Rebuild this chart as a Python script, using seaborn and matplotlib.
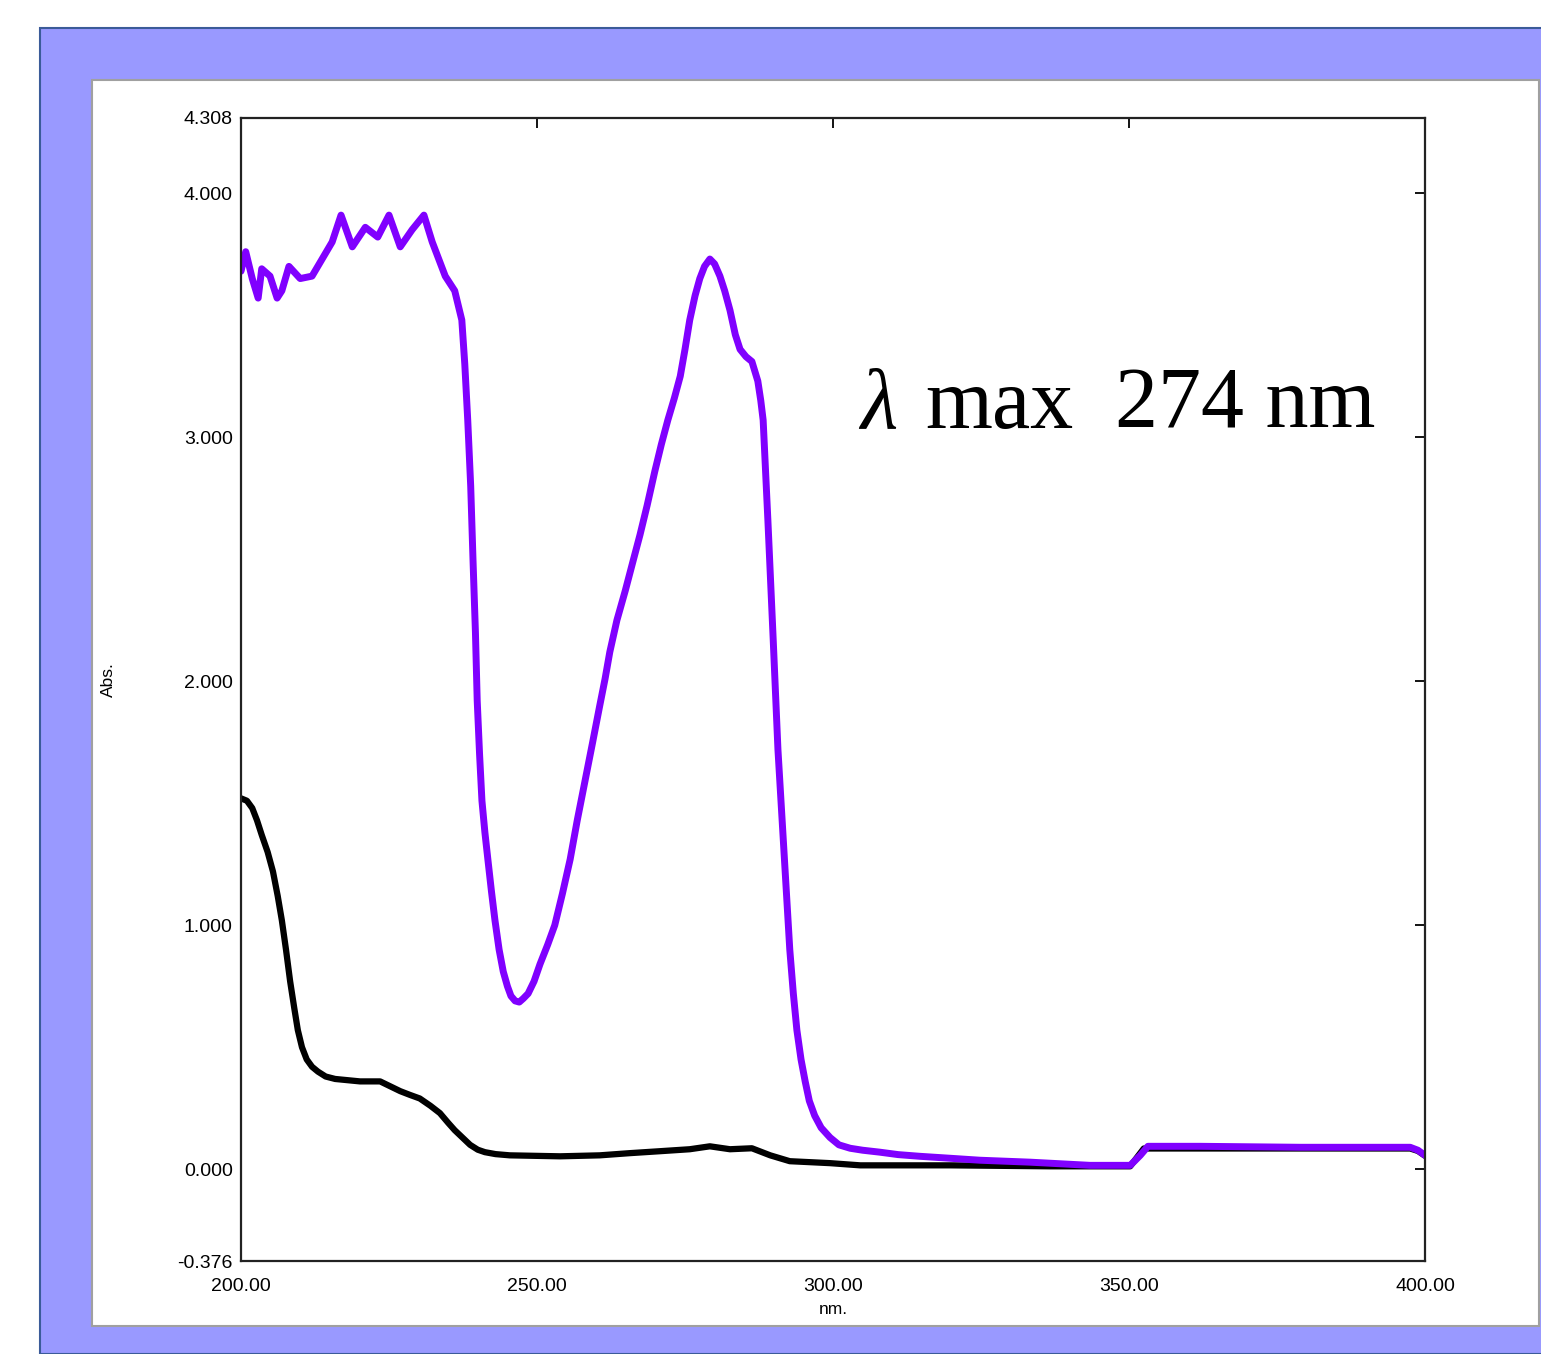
import pandas as pd
import matplotlib
matplotlib.use('Agg')
import matplotlib.pyplot as plt
import seaborn as sns
from matplotlib.patches import Rectangle

# sample spectrum (purple)
sample_nm = [200.0, 200.8, 201.9, 202.9, 203.5, 204.9, 206.1, 206.9, 208.1, 210.0, 212.0, 213.7,
             215.4, 216.9, 218.8, 221.0, 223.1, 225.0, 226.9, 228.9, 230.9, 232.3, 234.5, 236.1,
             237.3, 237.8, 238.3, 238.8, 239.2, 239.6, 239.9, 240.3, 240.7, 241.2, 241.7, 242.3,
             242.9, 243.6, 244.3, 245.0, 245.6, 246.3, 247.0, 247.7, 248.5, 249.5, 250.5, 251.8,
             253.0, 254.3, 255.6, 256.8, 258.1, 259.4, 260.6, 261.5, 262.3, 263.5, 264.9, 266.2,
             267.4, 268.6, 269.9, 271.0, 272.1, 273.2, 274.2, 275.0, 275.8, 276.7, 277.5, 278.3,
             279.2, 280.0, 280.9, 281.7, 282.6, 283.5, 284.3, 285.3, 286.3, 287.3, 287.8, 288.2,
             289.0, 289.9, 290.7, 291.7, 292.7, 293.3, 293.9, 294.6, 295.3, 296.0, 296.9, 298.0,
             299.5, 301.0, 302.9, 305.0, 307.9, 311.0, 314.7, 319.8, 324.8, 333.3, 343.4, 350.2,
             351.0, 351.9, 353.2, 362.0, 378.9, 397.5, 398.8, 400.0]
sample_abs = [3.68, 3.76, 3.65, 3.57, 3.69, 3.66, 3.57, 3.60, 3.70, 3.65, 3.66, 3.73,
              3.80, 3.91, 3.78, 3.86, 3.82, 3.91, 3.78, 3.85, 3.91, 3.80, 3.66, 3.60,
              3.48, 3.30, 3.07, 2.80, 2.49, 2.20, 1.92, 1.70, 1.51, 1.38, 1.27, 1.14,
              1.02, 0.90, 0.81, 0.75, 0.71, 0.69, 0.685, 0.70, 0.72, 0.77, 0.84, 0.92,
              1.00, 1.13, 1.27, 1.43, 1.59, 1.75, 1.90, 2.01, 2.12, 2.25, 2.37, 2.49,
              2.60, 2.72, 2.86, 2.97, 3.07, 3.16, 3.25, 3.36, 3.48, 3.58, 3.65, 3.70,
              3.73, 3.71, 3.66, 3.60, 3.52, 3.42, 3.36, 3.33, 3.31, 3.23, 3.15, 3.07,
              2.66, 2.17, 1.72, 1.31, 0.90, 0.72, 0.57, 0.45, 0.36, 0.28, 0.22, 0.17,
              0.13, 0.10, 0.086, 0.078, 0.07, 0.06, 0.053, 0.045, 0.037, 0.029, 0.016, 0.016,
              0.035, 0.057, 0.094, 0.094, 0.09, 0.09, 0.078, 0.057]

# blank / reference spectrum (black)
blank_nm = [200.0, 201.0, 201.9, 202.7, 203.5, 204.5, 205.4, 206.2, 206.9, 207.6, 208.3, 209.0,
            209.6, 210.3, 211.1, 212.0, 213.0, 214.3, 215.9, 220.1, 223.5, 226.9, 228.5, 230.2,
            232.0, 233.6, 235.0, 236.1, 237.4, 238.7, 240.0, 241.2, 243.0, 245.4, 253.9, 260.6,
            265.7, 270.8, 275.8, 279.2, 282.6, 286.3, 289.4, 292.7, 299.5, 304.6, 319.8, 336.7,
            350.2, 352.5, 397.5, 398.8, 400.0]
blank_abs = [1.52, 1.51, 1.48, 1.43, 1.37, 1.30, 1.22, 1.12, 1.02, 0.90, 0.77, 0.66,
             0.57, 0.50, 0.45, 0.42, 0.40, 0.38, 0.37, 0.36, 0.36, 0.32, 0.305, 0.29,
             0.26, 0.23, 0.19, 0.16, 0.13, 0.10, 0.08, 0.07, 0.062, 0.057, 0.053, 0.057,
             0.066, 0.074, 0.082, 0.094, 0.082, 0.086, 0.057, 0.033, 0.025, 0.016, 0.016, 0.012,
             0.012, 0.085, 0.085, 0.075, 0.055]

x_ticks = [200, 250, 300, 350, 400]
y_ticks = [-0.376, 0, 1, 2, 3, 4, 4.308]

sample = pd.DataFrame({'nm': sample_nm, 'Abs': sample_abs})
blank = pd.DataFrame({'nm': blank_nm, 'Abs': blank_abs})

sns.set_style('white')
plt.rcParams['font.family'] = ['Liberation Sans', 'DejaVu Sans']
plt.rcParams['text.color'] = 'black'

fig = plt.figure(figsize=(15.41, 13.54), dpi=100)
fig.patch.set_facecolor('white')

# window frame
fig.patches.append(Rectangle((40 / 1541, 0), 1.0, 1 - 28 / 1354, transform=fig.transFigure,
                             facecolor='#9999FF', edgecolor='#3B5B99', lw=1.5, zorder=0))
fig.patches.append(Rectangle((92 / 1541, 1 - 1326 / 1354), (1539 - 92) / 1541, (1326 - 80) / 1354,
                             transform=fig.transFigure, facecolor='white', edgecolor='#A0A0A0',
                             lw=1.5, zorder=0))

ax = fig.add_axes([241 / 1541, 1 - 1261 / 1354, (1425 - 241) / 1541, (1261 - 118) / 1354])
ax.set_zorder(3)
ax.set_facecolor('white')

sns.lineplot(data=blank, x='nm', y='Abs', ax=ax, color='black', lw=4.5, sort=False)
sns.lineplot(data=sample, x='nm', y='Abs', ax=ax, color='#8000FF', lw=5, sort=False)

ax.set_xlim(200, 400)
ax.set_ylim(-0.376, 4.308)
ax.set_xticks(x_ticks)
ax.set_xticklabels(['%.2f' % v for v in x_ticks])
ax.set_yticks(y_ticks)
ax.set_yticklabels(['%.3f' % v for v in y_ticks])
ax.tick_params(direction='in', length=7, width=1.3, top=True, right=True,
               labelsize=14, colors='black')
ax.tick_params(axis='x', pad=12)
ax.tick_params(axis='y', pad=6)
for s in ax.spines.values():
    s.set_visible(True)
    s.set_color('#222222')
    s.set_linewidth(1.6)
ax.set_xlabel('')
ax.set_ylabel('')

fig.text(833 / 1541, 1 - 1310 / 1354, 'nm.', ha='center', va='center', fontsize=12.5)
fig.text(108 / 1541, 1 - 680 / 1354, 'Abs.', ha='center', va='center', fontsize=12.5, rotation=90)

fig.text(860 / 1541, 1 - 428 / 1354, 'λ', family='Liberation Serif', style='italic',
         fontsize=62, va='baseline', ha='left', zorder=5)
fig.text(925 / 1541, 1 - 428 / 1354, 'max', family='Liberation Serif',
         fontsize=62, va='baseline', ha='left', zorder=5)
fig.text(1115 / 1541, 1 - 428 / 1354, '274 nm', family='Liberation Serif',
         fontsize=62, va='baseline', ha='left', zorder=5)

fig.savefig('out.png', dpi=100)
